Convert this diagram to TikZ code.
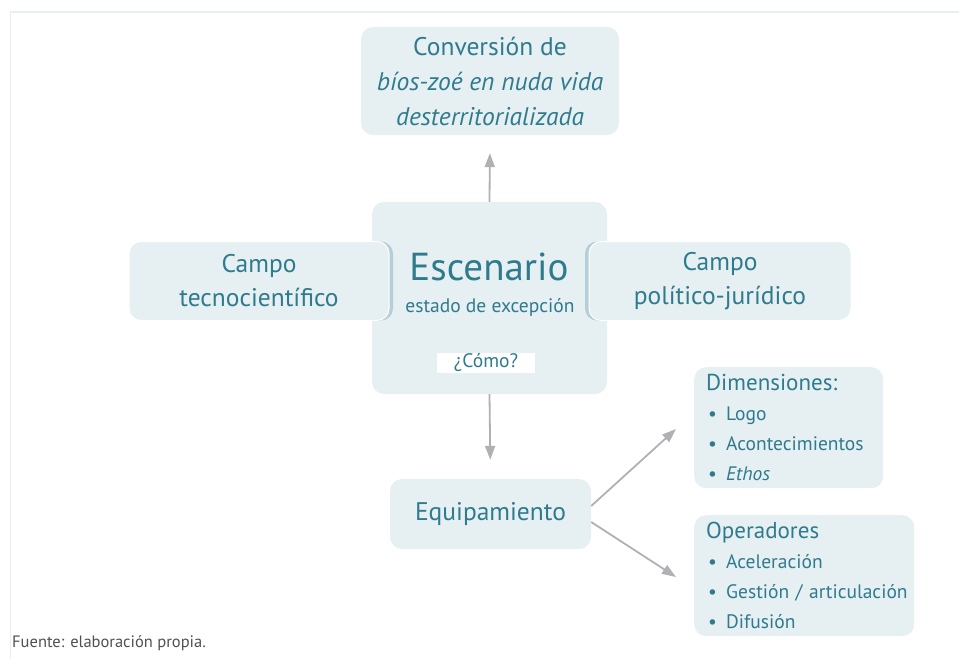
\documentclass[tikz,border=0pt]{standalone}
\usepackage{fontspec}
\setmainfont{PT Sans}
\usetikzlibrary{positioning,arrows.meta,shadows}
\definecolor{boxfill}{HTML}{E6EFF1}
\definecolor{boxtext}{HTML}{2F7B8E}
\definecolor{boxedge}{HTML}{B5CFD9}
\definecolor{arrowgray}{HTML}{B1B1B5}
\definecolor{framegray}{HTML}{E6F0F1}
\definecolor{fuentegray}{HTML}{505050}
\tikzset{>={Triangle[length=14pt,width=10pt]}}
\tikzstyle{box}=[rectangle,rounded corners=12pt,fill=boxfill,text=boxtext,align=center,inner sep=0pt]
\tikzstyle{sidebox}=[box,draw=white,line width=1pt,minimum height=79pt,font=\fontsize{25.5}{34}\selectfont]
\tikzstyle{listbox}=[box,anchor=north west,align=left,inner xsep=12pt,minimum height=121pt,font=\fontsize{19.5}{30}\selectfont]
\tikzstyle{link}=[->,draw=arrowgray,line width=1.8pt]
\newcommand{\punto}[1]{\mbox{\hspace*{2pt}\makebox[18pt][l]{•}#1}}

\begin{document}
\begin{tikzpicture}[x=1pt,y=-1pt]
\useasboundingbox (0,0) rectangle (959,659);
\draw[framegray,line width=1.5pt] (10.5,659) |- (959,12);
\node[box,minimum width=258pt,minimum height=108pt,font=\fontsize{25.5}{35}\selectfont] (conversion) at (490,81)
  {Conversión de\\\textit{bíos-zoé en nuda vida}\\\textit{desterritorializada}};
\node[box,minimum width=235pt,minimum height=192pt] (escenario) at (489.5,298) {};
\node[text=boxtext,font=\fontsize{39}{39}\selectfont] (titulo) at (489,267) {Escenario};
\node[text=boxtext,font=\fontsize{19.5}{20}\selectfont] (estado) at (490,307) {estado de excepción};
\node[fill=white,text=boxtext,minimum width=98pt,minimum height=20pt,inner sep=0pt,
  font=\fontsize{19.5}{19.5}\selectfont,above=21pt of escenario.south,xshift=-3.5pt] (como) {¿Cómo?};
\node[sidebox,minimum width=260pt,general shadow={fill=boxedge,shadow xshift=4pt,shadow yshift=0pt}] (tecno) at (259,281)
  {Campo\\tecnocientífico};
\node[sidebox,minimum width=262pt,general shadow={fill=boxedge,shadow xshift=-4pt,shadow yshift=0pt}] (politico) at (720,281)
  {Campo\\político-jurídico};
\node[box,minimum width=201pt,minimum height=70pt,font=\fontsize{25.5}{25.5}\selectfont] (equipamiento) at (490.5,514) {Equipamiento};
\node[listbox,minimum width=189pt,text width=165pt] (dimensiones) at (694,367)
  {{\fontsize{23}{23}\selectfont Dimensiones:}\\
   \punto{Logo}\\\punto{Acontecimientos}\\\punto{\textit{Ethos}}};
\node[listbox,minimum width=220pt,text width=196pt] (operadores) at (694,515)
  {{\fontsize{23}{23}\selectfont Operadores}\\
   \punto{Aceleración}\\\punto{Gestión / articulación}\\\punto{Difusión}};
\coordinate (dimtip) at (676,429);
\coordinate (optip) at (676,577);
\draw[link,shorten >=18pt] (escenario.north) -- (conversion.south);
\draw[link,shorten >=19pt] (escenario.south) -- (equipamiento.north);
\draw[link] ([yshift=8pt]equipamiento.east) -- (dimtip);
\draw[link] ([yshift=-8pt]equipamiento.east) -- (optip);
\node[anchor=base west,text=fuentegray,font=\fontsize{16.5}{16.5}\selectfont,inner sep=0pt] (fuente) at (12,647) {Fuente: elaboración propia.};
\end{tikzpicture}
\end{document}
